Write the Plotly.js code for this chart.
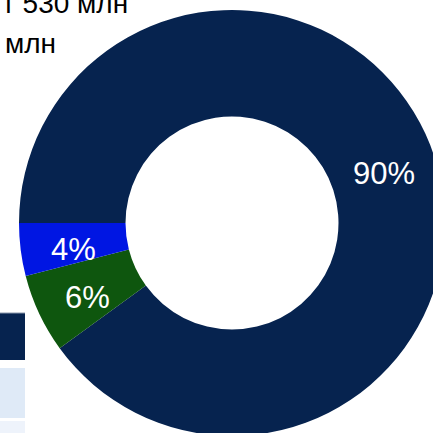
<!DOCTYPE html>
<html>
<head>
<meta charset="utf-8">
<script src="https://cdn.plot.ly/plotly-3.0.1.min.js"></script>
<style>
html,body{margin:0;padding:0;overflow:hidden;background:#fff;width:433px;height:433px;}
#chart{position:absolute;left:0;top:0;width:460px;height:450px;}
</style>
</head>
<body>
<div id="chart"></div>
<script>
const sliceLabels = ['Тёмно-синий', 'Зелёный', 'Синий'];
const sliceValues = [90, 6, 4];
const sliceColors = ['#06234F', '#0E560E', '#0016E3'];
const topTexts = ['т 530 млн', 'млн'];

const W = 460, H = 450;
const px = x => x / W;
const py = y => 1 - y / H;

// pie geometry (pixels of the plot div)
const domL = 19, domR = 445, domT = 10, domB = 436;
const hole = 0.5;
const startDeg = 180;           // 9 o'clock, slices run clockwise
const cx = (domL + domR) / 2, cy = (domT + domB) / 2;
const rOut = (domR - domL) / 2;
const rMid = rOut * (1 + hole) / 2;
const total = sliceValues.reduce((a, b) => a + b, 0);

const labelFont = {family: 'Liberation Sans, Arial, sans-serif', size: 31, color: '#ffffff'};

const trace = {
  type: 'pie',
  labels: sliceLabels,
  values: sliceValues,
  hole: hole,
  sort: false,
  direction: 'clockwise',
  rotation: -90,
  marker: {colors: sliceColors, line: {width: 0}},
  texttemplate: '%{value}%',
  textposition: sliceValues.map(v => v >= 50 ? 'inside' : 'none'),
  insidetextorientation: 'horizontal',
  textfont: labelFont,
  domain: {x: [px(domL), px(domR)], y: [py(domB), py(domT)]},
  showlegend: false,
  hoverinfo: 'none'
};

// labels for the narrow slices, placed at the middle of their wedge
const sliceAnnotations = [];
let cum = 0;
sliceValues.forEach((v, i) => {
  const midDeg = startDeg - 360 * (cum + v / 2) / total;
  cum += v;
  if (v >= 50) return;
  const a = midDeg * Math.PI / 180;
  sliceAnnotations.push({
    xref: 'paper', yref: 'paper',
    x: px(cx + rMid * Math.cos(a)), y: py(cy - rMid * Math.sin(a)),
    xanchor: 'center', yanchor: 'middle', yshift: -6,
    text: v + '%', showarrow: false, font: labelFont
  });
});

const layout = {
  width: W, height: H,
  margin: {l: 0, r: 0, t: 0, b: 0},
  paper_bgcolor: '#ffffff',
  font: {family: 'Liberation Sans, Arial, sans-serif', color: '#000000'},
  uniformtext: {minsize: 31, mode: 'show'},
  shapes: [
    {type: 'rect', xref: 'paper', yref: 'paper', x0: px(-2), x1: px(25), y0: py(360), y1: py(313), fillcolor: '#06234F', line: {width: 0}},
    {type: 'line', xref: 'paper', yref: 'paper', x0: px(-2), x1: px(25), y0: py(313), y1: py(313), line: {width: 1, color: '#8a97ab'}},
    {type: 'rect', xref: 'paper', yref: 'paper', x0: px(-2), x1: px(25), y0: py(418), y1: py(368), fillcolor: '#DFEAF7', line: {width: 0}},
    {type: 'rect', xref: 'paper', yref: 'paper', x0: px(-2), x1: px(25), y0: py(440), y1: py(421), fillcolor: '#EEF3FB', line: {width: 0}}
  ],
  annotations: [
    {xref: 'paper', yref: 'paper', x: px(0), y: py(3), xanchor: 'left', yanchor: 'middle', text: topTexts[0], showarrow: false, font: {size: 28, color: '#000000'}},
    {xref: 'paper', yref: 'paper', x: px(3), y: py(43), xanchor: 'left', yanchor: 'middle', text: topTexts[1], showarrow: false, font: {size: 28, color: '#000000'}}
  ].concat(sliceAnnotations)
};

Plotly.newPlot('chart', [trace], layout, {displayModeBar: false, staticPlot: true});
</script>
</body>
</html>
